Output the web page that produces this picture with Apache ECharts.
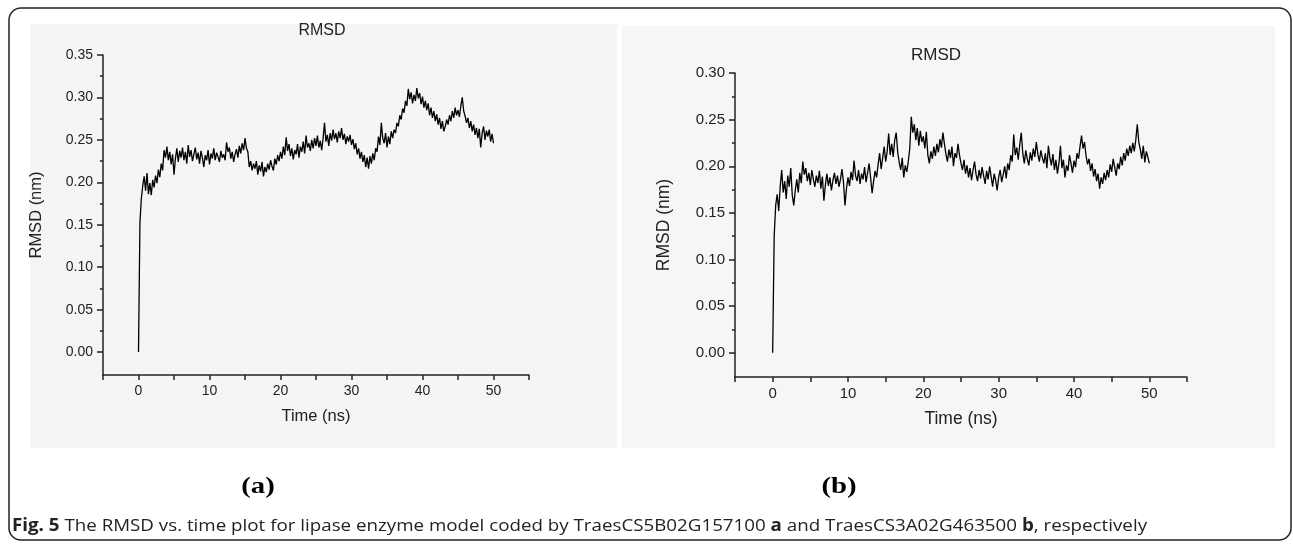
<!DOCTYPE html>
<html><head><meta charset="utf-8">
<script src="https://cdn.jsdelivr.net/npm/echarts@6/dist/echarts.min.js"></script>
<style>html,body{margin:0;padding:0;background:#fff}#c{width:1293px;height:544px}</style>
</head><body><div id="c"></div><script>
// sampling interval of the trajectories (ns)
const sampleStep = 0.2;

// (a) TraesCS5B02G157100, RMSD (nm) every 0.2 ns from 0 to 50 ns
const rmsdA = [
0.000,0.152,0.181,0.196,0.207,0.190,0.211,0.186,0.199,0.185,
0.203,0.194,0.208,0.199,0.215,0.206,0.222,0.214,0.238,0.229,
0.242,0.226,0.236,0.221,0.233,0.209,0.228,0.240,0.224,0.237,
0.229,0.241,0.226,0.236,0.222,0.244,0.230,0.238,0.225,0.233,
0.241,0.227,0.235,0.222,0.237,0.229,0.218,0.232,0.226,0.238,
0.221,0.234,0.228,0.240,0.226,0.235,0.230,0.224,0.237,0.229,
0.233,0.226,0.247,0.236,0.241,0.228,0.236,0.224,0.233,0.239,
0.229,0.243,0.234,0.246,0.238,0.252,0.240,0.236,0.218,0.225,
0.214,0.222,0.216,0.225,0.209,0.220,0.213,0.224,0.207,0.218,
0.212,0.222,0.215,0.226,0.219,0.214,0.228,0.221,0.232,0.225,
0.236,0.228,0.242,0.232,0.253,0.237,0.245,0.231,0.240,0.227,
0.238,0.233,0.245,0.229,0.242,0.236,0.248,0.234,0.255,0.241,
0.246,0.237,0.250,0.240,0.252,0.243,0.255,0.241,0.249,0.238,
0.252,0.270,0.248,0.256,0.243,0.258,0.249,0.262,0.251,0.258,
0.247,0.260,0.252,0.264,0.250,0.257,0.245,0.254,0.248,0.256,
0.244,0.251,0.239,0.246,0.233,0.240,0.228,0.236,0.224,0.232,
0.218,0.229,0.216,0.231,0.222,0.234,0.226,0.240,0.236,0.254,
0.244,0.270,0.252,0.246,0.258,0.241,0.254,0.245,0.260,0.252,
0.262,0.258,0.270,0.266,0.279,0.274,0.287,0.282,0.296,0.290,
0.310,0.298,0.306,0.293,0.303,0.296,0.311,0.299,0.305,0.292,
0.301,0.288,0.296,0.285,0.293,0.279,0.288,0.276,0.284,0.272,
0.280,0.268,0.276,0.263,0.272,0.260,0.266,0.274,0.268,0.279,
0.272,0.284,0.276,0.288,0.279,0.285,0.277,0.290,0.300,0.284,
0.278,0.270,0.276,0.264,0.272,0.260,0.268,0.256,0.264,0.252,
0.263,0.241,0.258,0.266,0.250,0.261,0.254,0.262,0.248,0.257,
0.246
];

// (b) TraesCS3A02G463500, RMSD (nm) every 0.2 ns from 0 to 50 ns
const rmsdB = [
0.000,0.125,0.158,0.170,0.152,0.178,0.196,0.172,0.184,0.165,
0.190,0.178,0.198,0.169,0.158,0.174,0.186,0.172,0.193,0.182,
0.205,0.191,0.198,0.184,0.193,0.180,0.196,0.186,0.178,0.190,
0.182,0.195,0.176,0.189,0.163,0.180,0.192,0.179,0.188,0.174,
0.185,0.193,0.181,0.190,0.178,0.186,0.197,0.183,0.158,0.176,
0.188,0.179,0.194,0.185,0.206,0.190,0.184,0.196,0.181,0.192,
0.186,0.199,0.183,0.193,0.203,0.188,0.171,0.184,0.195,0.188,
0.202,0.214,0.197,0.209,0.221,0.205,0.216,0.235,0.212,0.224,
0.210,0.228,0.236,0.215,0.204,0.196,0.209,0.188,0.201,0.194,
0.205,0.219,0.253,0.236,0.245,0.228,0.241,0.222,0.238,0.226,
0.232,0.219,0.237,0.212,0.203,0.216,0.208,0.221,0.211,0.224,
0.215,0.229,0.220,0.236,0.224,0.213,0.205,0.218,0.209,0.221,
0.200,0.214,0.209,0.224,0.212,0.203,0.196,0.207,0.192,0.201,
0.188,0.198,0.185,0.196,0.205,0.191,0.184,0.196,0.187,0.199,
0.190,0.181,0.195,0.186,0.200,0.189,0.178,0.192,0.185,0.174,
0.188,0.196,0.183,0.191,0.200,0.187,0.203,0.196,0.212,0.205,
0.234,0.212,0.220,0.207,0.223,0.236,0.214,0.203,0.217,0.208,
0.201,0.215,0.206,0.219,0.210,0.226,0.213,0.205,0.217,0.209,
0.203,0.214,0.198,0.222,0.209,0.201,0.213,0.196,0.207,0.192,
0.203,0.222,0.198,0.207,0.188,0.201,0.195,0.212,0.203,0.193,
0.206,0.199,0.214,0.208,0.221,0.233,0.219,0.226,0.211,0.202,
0.208,0.195,0.203,0.189,0.197,0.184,0.192,0.176,0.188,0.181,
0.193,0.185,0.196,0.188,0.202,0.194,0.208,0.199,0.190,0.203,
0.197,0.210,0.201,0.214,0.206,0.219,0.211,0.222,0.214,0.225,
0.216,0.228,0.245,0.226,0.218,0.208,0.222,0.204,0.216,0.210,
0.203
];

const xTickLabels = [0, 10, 20, 30, 40, 50];
const yTickLabelsA = [0, 0.05, 0.10, 0.15, 0.20, 0.25, 0.30, 0.35];
const yMinorTicksA = [0.025, 0.075, 0.125, 0.175, 0.225, 0.275, 0.325];
const yTickLabelsB = [0, 0.05, 0.10, 0.15, 0.20, 0.25, 0.30];
const yMinorTicksB = [0.025, 0.075, 0.125, 0.175, 0.225, 0.275];

const panelTitle = 'RMSD';
const xName = 'Time (ns)';
const yName = 'RMSD (nm)';
const caption = '{b|Fig. 5} The RMSD vs. time plot for lipase enzyme model coded by TraesCS5B02G157100 {b|a} and TraesCS3A02G463500 {b|b}, respectively';

const toPairs = arr => arr.map((v, i) => [+(i * sampleStep).toFixed(1), v]);

const FONT = 'Liberation Sans, Arial, sans-serif';
const AX = '#222';

function xAxisCfg(grid, fs, nameFs, gap) {
  return {
    type: 'value', gridIndex: grid, min: -5, max: 55, interval: 5,
    name: xName, nameLocation: 'middle', nameGap: gap,
    nameTextStyle: { fontFamily: FONT, fontSize: nameFs, color: AX },
    axisLine: { onZero: false, lineStyle: { color: AX, width: 1.5 } },
    axisTick: { show: true, inside: false, length: 5, lineStyle: { color: AX, width: 1.5 } },
    axisLabel: { customValues: xTickLabels, fontFamily: FONT, fontSize: fs, color: AX, margin: 9 },
    splitLine: { show: false }
  };
}
function yAxisCfg(grid, min, max, labels, fs, nameFs, gap) {
  return {
    type: 'value', gridIndex: grid, min: min, max: max,
    name: yName, nameLocation: 'middle', nameGap: gap,
    nameTextStyle: { fontFamily: FONT, fontSize: nameFs, color: AX },
    axisLine: { onZero: false, lineStyle: { color: AX, width: 1.5 } },
    axisTick: { customValues: labels, length: 6, lineStyle: { color: AX, width: 1.5 } },
    axisLabel: { customValues: labels, formatter: v => v.toFixed(2), fontFamily: FONT, fontSize: fs, color: AX, margin: 10 },
    splitLine: { show: false }
  };
}
function yMinorCfg(grid, min, max, ticks) {
  return {
    type: 'value', gridIndex: grid, min: min, max: max, position: 'left',
    axisLine: { show: false, onZero: false },
    axisTick: { customValues: ticks, length: 3, lineStyle: { color: AX, width: 1.5 } },
    axisLabel: { show: false },
    splitLine: { show: false }
  };
}

const chart = echarts.init(document.getElementById('c'), null, { renderer: 'canvas' });
chart.setOption({
  animation: false,
  backgroundColor: '#ffffff',
  grid: [
    { left: 103, top: 55, width: 426, height: 320 },
    { left: 735, top: 73, width: 452, height: 304 }
  ],
  xAxis: [ xAxisCfg(0, 14, 16.5, 33), xAxisCfg(1, 15, 17.5, 33) ],
  yAxis: [
    yAxisCfg(0, -0.027, 0.35, yTickLabelsA, 14, 16.5, 58),
    yMinorCfg(0, -0.027, 0.35, yMinorTicksA),
    yAxisCfg(1, -0.026, 0.30, yTickLabelsB, 15, 17.5, 62),
    yMinorCfg(1, -0.026, 0.30, yMinorTicksB)
  ],
  series: [
    { type: 'line', xAxisIndex: 0, yAxisIndex: 0, data: toPairs(rmsdA), showSymbol: false,
      lineStyle: { color: '#000', width: 1.3 } },
    { type: 'line', xAxisIndex: 1, yAxisIndex: 2, data: toPairs(rmsdB), showSymbol: false,
      lineStyle: { color: '#000', width: 1.3 } }
  ],
  graphic: { elements: [
    { type: 'rect', z: -10, shape: { x: 30, y: 24, width: 587, height: 424 }, style: { fill: '#f5f5f5' } },
    { type: 'rect', z: -10, shape: { x: 622, y: 26, width: 653, height: 422 }, style: { fill: '#f6f6f6' } },
    { type: 'rect', z: 50, shape: { x: 9, y: 8, width: 1282, height: 532, r: 12 }, style: { fill: 'none', stroke: '#222', lineWidth: 1.5 } },
    { type: 'text', z: 50, x: 322, y: 31, style: { text: panelTitle, fontFamily: FONT, fontSize: 16, fill: AX, textAlign: 'center', textVerticalAlign: 'middle' } },
    { type: 'text', z: 50, x: 936, y: 55, style: { text: panelTitle, fontFamily: FONT, fontSize: 17, fill: AX, textAlign: 'center', textVerticalAlign: 'middle' } },
    { type: 'text', z: 50, x: 258, y: 487, scaleX: 1.25, style: { text: '(a)', fontFamily: 'Liberation Serif, Times New Roman, serif', fontWeight: 'bold', fontSize: 23, fill: '#000', textAlign: 'center', textVerticalAlign: 'middle' } },
    { type: 'text', z: 50, x: 839, y: 487, scaleX: 1.25, style: { text: '(b)', fontFamily: 'Liberation Serif, Times New Roman, serif', fontWeight: 'bold', fontSize: 23, fill: '#000', textAlign: 'center', textVerticalAlign: 'middle' } },
    { type: 'text', z: 50, x: 12, y: 526, scaleX: 1.103, style: { text: caption, fontFamily: 'Open Sans, sans-serif', fontSize: 17, fill: '#222', textAlign: 'left', textVerticalAlign: 'middle',
      rich: { b: { fontFamily: 'Open Sans, sans-serif', fontSize: 17, fontWeight: 'bold', fill: '#222' } } } }
  ] }
});
</script></body></html>
